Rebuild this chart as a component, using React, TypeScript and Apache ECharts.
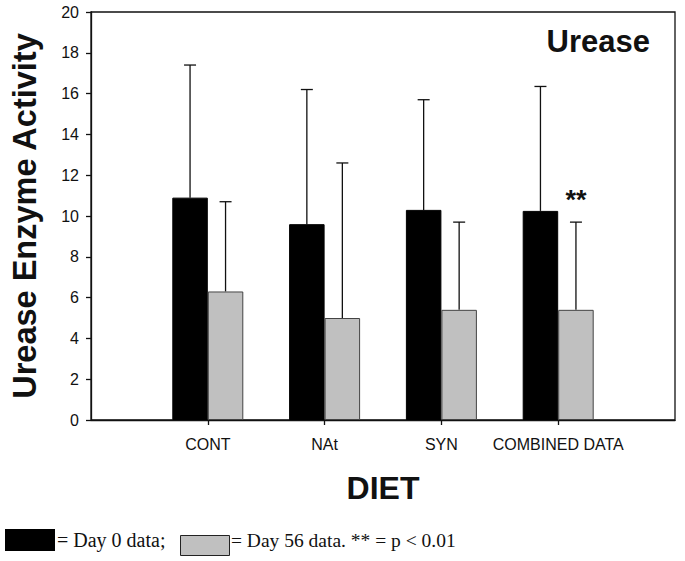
import React, { useEffect, useRef } from "react";
import * as echarts from "echarts";

const categories = ["", "CONT", "NAt", "SYN", "COMBINED DATA", ""];
const day0Mean = [null, 10.9, 9.6, 10.3, 10.25, null];
const day0Upper = [null, 17.4, 16.2, 15.7, 16.35, null];
const day56Mean = [null, 6.3, 5.0, 5.4, 5.4, null];
const day56Upper = [null, 10.7, 12.6, 9.7, 9.7, null];
const day56Significance = ["", "", "", "", "**", ""];
const yTicks = { min: 0, max: 20, interval: 2 };

const BAR_W = 35.5;

function errorSeries(means: (number | null)[], uppers: (number | null)[], sign: number, marks?: string[]) {
  const data: any[] = [];
  means.forEach((m, i) => {
    if (m != null && uppers[i] != null) data.push([i, m, uppers[i], marks ? marks[i] : ""]);
  });
  return {
    type: "custom",
    data,
    z: 1,
    silent: true,
    renderItem: (params: any, api: any) => {
      const i = api.value(0);
      const lo = api.coord([i, api.value(1)]);
      const hi = api.coord([i, api.value(2)]);
      const x = lo[0] + sign * BAR_W / 2;
      const cap = 6;
      const children: any[] = [
        { type: "line", shape: { x1: x, y1: lo[1], x2: x, y2: hi[1] }, style: { stroke: "#111", lineWidth: 1.3 } },
        { type: "line", shape: { x1: x - cap, y1: hi[1], x2: x + cap, y2: hi[1] }, style: { stroke: "#111", lineWidth: 1.3 } },
      ];
      const mark = data[params.dataIndex][3];
      if (mark) {
        children.push({
          type: "text",
          style: {
            text: mark, x: x, y: hi[1] - 22, align: "center", verticalAlign: "middle",
            fontSize: 27, fontWeight: "bold", fontFamily: "Liberation Sans, Arial, sans-serif", fill: "#111",
          },
        });
      }
      return { type: "group", children };
    },
  };
}

export default function App() {
  const ref = useRef<HTMLDivElement>(null);
  useEffect(() => {
    document.body.style.margin = "0";
    const chart = echarts.init(ref.current!, null, { renderer: "svg" });
    const font = "Liberation Sans, Arial, sans-serif";
    chart.setOption({
      animation: false,
      grid: { left: 91, top: 12, right: 10, bottom: 141, show: true, borderColor: "#111", borderWidth: 1.3, backgroundColor: "transparent" },
      xAxis: {
        type: "category",
        data: categories,
        boundaryGap: false,
        axisLine: { lineStyle: { color: "#111", width: 1.3 } },
        axisTick: { length: 5, interval: (idx: number) => idx > 0 && idx < categories.length - 1, lineStyle: { color: "#111", width: 1.3 } },
        axisLabel: { color: "#111", fontSize: 16, fontFamily: font, margin: 16, interval: 0 },
        name: "DIET",
        nameLocation: "middle",
        nameGap: 52,
        nameTextStyle: { fontSize: 32, fontWeight: "bold", color: "#111", fontFamily: font },
      },
      yAxis: {
        type: "value",
        min: yTicks.min, max: yTicks.max, interval: yTicks.interval,
        splitLine: { show: false },
        axisLine: { show: true, lineStyle: { color: "#111", width: 1.3 } },
        axisTick: { show: true, length: 5, lineStyle: { color: "#111", width: 1.3 } },
        axisLabel: { color: "#111", fontSize: 16, fontFamily: font, margin: 12 },
        name: "Urease Enzyme Activity",
        nameLocation: "middle",
        nameGap: 50,
        nameTextStyle: { fontSize: 32.5, fontWeight: "bold", color: "#111", fontFamily: font },
      },
      series: [
        {
          type: "bar", data: day0Mean, barWidth: BAR_W, barGap: "0%", z: 2,
          itemStyle: { color: "#000", borderColor: "#000", borderWidth: 1 },
        },
        {
          type: "bar", data: day56Mean, barWidth: BAR_W, barGap: "0%", z: 2,
          itemStyle: { color: "#c0c0c0", borderColor: "#444", borderWidth: 1 },
        },
        errorSeries(day0Mean, day0Upper, -1),
        errorSeries(day56Mean, day56Upper, 1, day56Significance),
      ],
      graphic: [
        { type: "text", right: 35, top: 26, style: { text: "Urease", fontSize: 31, fontWeight: "bold", fontFamily: font, fill: "#111" } },
        { type: "rect", shape: { x: 5, y: 529, width: 50, height: 22 }, style: { fill: "#000" } },
        { type: "text", x: 57, y: 540, style: { text: "= Day 0 data;", fontSize: 20, fontFamily: "Liberation Serif, Times New Roman, serif", fill: "#111", verticalAlign: "middle" } },
        { type: "rect", shape: { x: 180.5, y: 535.5, width: 49, height: 20 }, style: { fill: "#c0c0c0", stroke: "#222", lineWidth: 1 } },
        { type: "text", x: 231, y: 540, style: { text: "= Day 56 data. ** = p < 0.01", fontSize: 19.5, fontFamily: "Liberation Serif, Times New Roman, serif", fill: "#111", verticalAlign: "middle" } },
      ],
    });
    return () => chart.dispose();
  }, []);
  return <div ref={ref} style={{ width: 685, height: 561 }} />;
}
